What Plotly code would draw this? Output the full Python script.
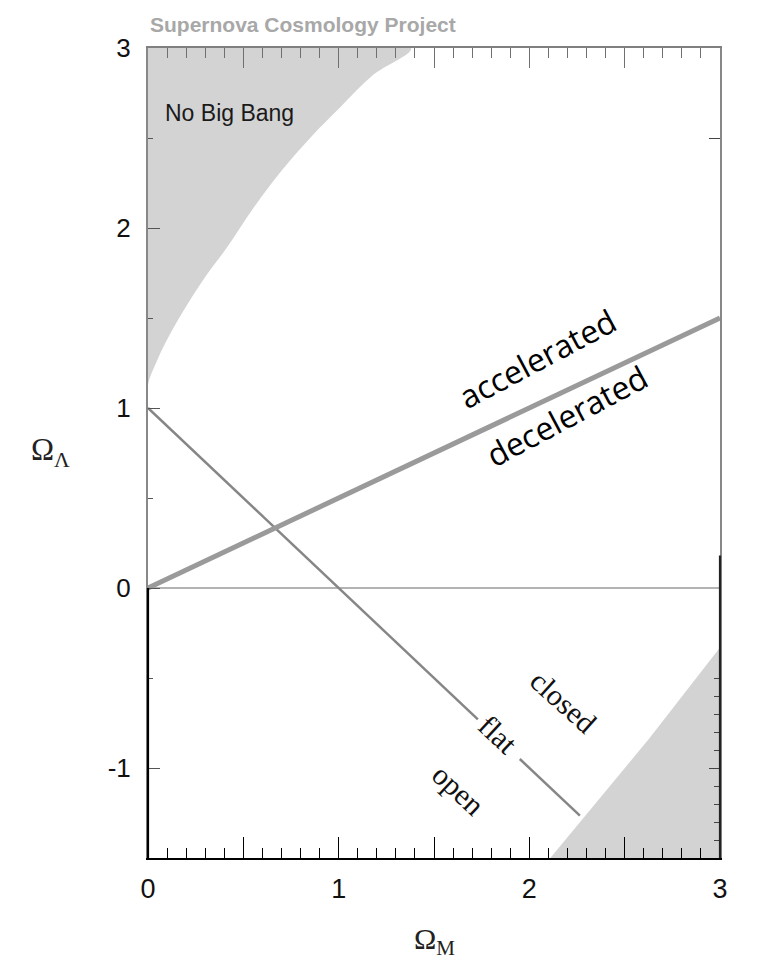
import plotly.graph_objects as go

# ---------------- data ----------------
nobigbang_om = [0.0, 0.0, 0.046, 0.115, 0.203, 0.308, 0.413, 0.552, 0.71, 0.867, 1.007, 1.18, 1.38, 0.0]
nobigbang_ol = [1.0, 1.13, 1.26, 1.41, 1.57, 1.74, 1.89, 2.11, 2.33, 2.52, 2.67, 2.85, 3.0, 3.0]

recollapse_om = [2.11, 2.63, 3.0, 3.0]
recollapse_ol = [-1.5, -0.835, -0.33, -1.5]

accel_om = [0.0, 3.0]
accel_ol = [0.0, 1.5]

flat_om = [0.0, 1.73, None, 1.95, 2.265]
flat_ol = [1.0, -0.73, None, -0.95, -1.265]

zero_om = [0.0, 3.0]
zero_ol = [0.0, 0.0]

x_tickvals = [0, 1, 2, 3]
x_ticktext = ["0", "1", "2", "3"]
x_half = [0.5, 1.5, 2.5]
x_long = [0, 0.5, 1, 1.5, 2, 2.5, 3]
x_minor = [round(i * 0.1, 1) for i in range(31)]
y_tickvals = [-1, 0, 1, 2, 3]
y_ticktext = ["-1", "0", "1", "2", "3"]
y_minor = [-1.5, -0.5, 0.5, 1.5, 2.5]
yr_tickvals = [-1, 2.5]
yr_minor = [-1.4, -1.3, -1.2, -1.1, -0.9, -0.8, -0.7, -0.6, -0.5]

SHADE = "rgb(211,211,211)"
TICKFONT = "Liberation Sans, Arial, sans-serif"

fig = go.Figure()

fig.add_trace(go.Scatter(x=nobigbang_om, y=nobigbang_ol, fill="toself", fillcolor=SHADE,
                         mode="lines", line=dict(width=0, shape="spline", smoothing=1.0, color=SHADE),
                         hoverinfo="skip", showlegend=False))
fig.add_trace(go.Scatter(x=recollapse_om, y=recollapse_ol, fill="toself", fillcolor=SHADE,
                         mode="none", hoverinfo="skip", showlegend=False))
fig.add_trace(go.Scatter(x=zero_om, y=zero_ol, mode="lines",
                         line=dict(color="#9a9a9a", width=1.5), showlegend=False))
fig.add_trace(go.Scatter(x=flat_om, y=flat_ol, mode="lines", connectgaps=False,
                         line=dict(color="#868686", width=2.5), showlegend=False))
fig.add_trace(go.Scatter(x=accel_om, y=accel_ol, mode="lines",
                         line=dict(color="#9a9a9a", width=5), showlegend=False))
# invisible traces to bind the secondary axes
fig.add_trace(go.Scatter(x=[0], y=[0], xaxis="x2", yaxis="y2", mode="markers",
                         marker=dict(opacity=0), hoverinfo="skip", showlegend=False))
fig.add_trace(go.Scatter(x=[0], y=[0], xaxis="x3", yaxis="y", mode="markers",
                         marker=dict(opacity=0), hoverinfo="skip", showlegend=False))

fig.update_layout(
    width=771, height=968,
    margin=dict(l=148, r=51, t=48, b=110),
    paper_bgcolor="white", plot_bgcolor="white",
    showlegend=False,
    xaxis=dict(range=[0, 3], showgrid=False, zeroline=False,
               showline=True, linecolor="black", linewidth=2,
               ticks="inside", tickvals=x_tickvals, ticktext=x_ticktext,
               ticklen=21, tickwidth=1.2, tickcolor="black",
               ticklabelstandoff=6,
               tickfont=dict(family=TICKFONT, size=27, color="#111"),
               minor=dict(tickmode="array", tickvals=x_minor, ticks="inside",
                          ticklen=10, tickwidth=1, tickcolor="black")),
    xaxis3=dict(range=[0, 3], overlaying="x", side="bottom", showgrid=False, zeroline=False,
                showline=False, ticks="inside", tickvals=x_half, showticklabels=False,
                ticklen=21, tickwidth=1.2, tickcolor="black"),
    xaxis2=dict(range=[0, 3], overlaying="x", side="top", showgrid=False, zeroline=False,
                showline=True, linecolor="#808080", linewidth=2,
                ticks="inside", tickvals=x_long, showticklabels=False,
                ticklen=20, tickwidth=1.2, tickcolor="#707070",
                minor=dict(tickmode="array", tickvals=x_minor, ticks="inside",
                           ticklen=10, tickwidth=1, tickcolor="#707070")),
    yaxis=dict(range=[-1.5, 3], showgrid=False, zeroline=False,
               showline=True, linecolor="#888888", linewidth=2,
               ticks="inside", tickvals=y_tickvals, ticktext=y_ticktext,
               ticklen=12, tickwidth=1.2, tickcolor="#555",
               ticklabelstandoff=10,
               tickfont=dict(family=TICKFONT, size=26, color="#111"),
               minor=dict(tickmode="array", tickvals=y_minor, ticks="inside",
                          ticklen=5, tickwidth=1, tickcolor="#555")),
    yaxis2=dict(range=[-1.5, 3], overlaying="y", side="right", showgrid=False, zeroline=False,
                showline=True, linecolor="#888888", linewidth=2,
                ticks="inside", tickvals=yr_tickvals, showticklabels=False,
                ticklen=11, tickwidth=1.2, tickcolor="#444",
                minor=dict(tickmode="array", tickvals=yr_minor, ticks="inside",
                           ticklen=6, tickwidth=1, tickcolor="#444")),
)

# darker lower parts of the frame
fig.add_shape(type="line", xref="x domain", yref="y", x0=0, x1=0, y0=-1.5, y1=0,
              line=dict(color="black", width=2.2), layer="above")
fig.add_shape(type="line", xref="x domain", yref="y", x0=1, x1=1, y0=-1.5, y1=0.18,
              line=dict(color="#222", width=2.2), layer="above")

ann = []
ann.append(dict(text="<b>Supernova Cosmology Project</b>", xref="paper", yref="paper",
                x=0, y=1, xanchor="left", yanchor="middle", yshift=24, showarrow=False,
                font=dict(family=TICKFONT, size=21, color="#a8a8a8")))
ann.append(dict(text="No Big Bang", xref="x", yref="y", x=0.08, y=2.637,
                xanchor="left", yanchor="middle", showarrow=False,
                font=dict(family=TICKFONT, size=23, color="#1a1a1a")))
ann.append(dict(text="accelerated", xref="x", yref="y", x=2.038, y=1.276, textangle=-28,
                showarrow=False, font=dict(family="Open Sans, sans-serif", size=32, color="black")))
ann.append(dict(text="decelerated", xref="x", yref="y", x=2.195, y=0.961, textangle=-28,
                showarrow=False, font=dict(family="Open Sans, sans-serif", size=32, color="black")))
serif = "Liberation Serif, Times New Roman, serif"
ann.append(dict(text="closed", xref="x", yref="y", x=2.178, y=-0.632, textangle=42,
                showarrow=False, font=dict(family=serif, size=30, color="#111")))
ann.append(dict(text="flat", xref="x", yref="y", x=1.837, y=-0.813, textangle=43,
                showarrow=False, font=dict(family=serif, size=30, color="#111")))
ann.append(dict(text="open", xref="x", yref="y", x=1.627, y=-1.122, textangle=43,
                showarrow=False, font=dict(family=serif, size=30, color="#111")))
ann.append(dict(text="Ω<sub>Λ</sub>", xref="paper", yref="y", x=-0.171, y=0.756,
                xanchor="center", yanchor="middle", showarrow=False,
                font=dict(family=serif, size=31, color="#222")))
ann.append(dict(text="Ω<sub>M</sub>", xref="paper", yref="paper", x=0.5, y=-0.102,
                xanchor="center", yanchor="middle", showarrow=False,
                font=dict(family=serif, size=30, color="#222")))
fig.update_layout(annotations=ann)

fig.write_html("out.html")
